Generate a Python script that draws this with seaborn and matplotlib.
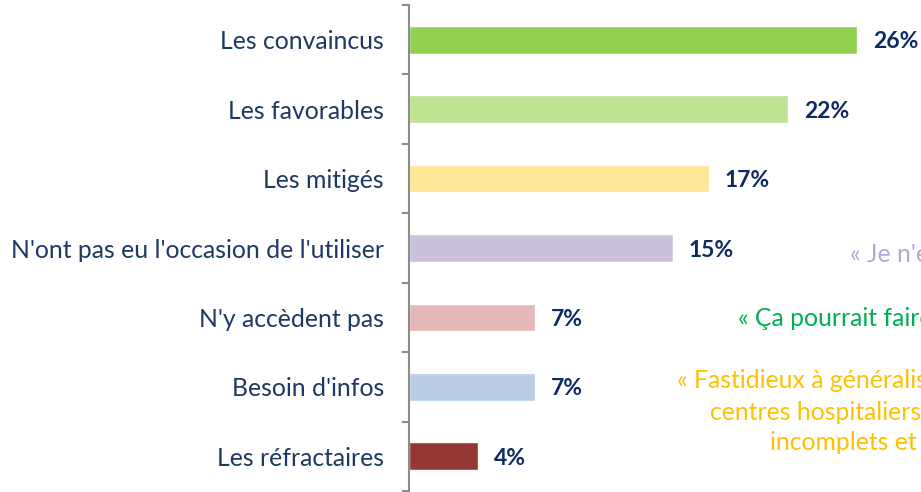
import matplotlib
matplotlib.use("Agg")
import matplotlib.pyplot as plt
import seaborn as sns
import pandas as pd
from matplotlib.ticker import FixedLocator

categories = ["Les convaincus", "Les favorables", "Les mitigés",
              "N'ont pas eu l'occasion de l'utiliser", "N'y accèdent pas",
              "Besoin d'infos", "Les réfractaires"]
values = [26.0, 22.0, 17.4, 15.3, 7.3, 7.3, 4.0]
value_labels = ["26%", "22%", "17%", "15%", "7%", "7%", "4%"]
bar_colors = ["#92D050", "#BDE393", "#FFE699", "#CCC1DA", "#E6B8B7", "#B9CDE5", "#953735"]

quotes = [
    ("« Je n'en ai pas eu l'occasion »", "#B4A7D6", 850, 255),
    ("« Ça pourrait faire gagner du temps »", "#00B050", 738, 318),
    ("« Fastidieux à généraliser dans tous les", "#FFC000", 677, 381),
    ("centres hospitaliers, dossiers", "#FFC000", 710, 412),
    ("incomplets et mal renseignés »", "#FFC000", 770, 443),
]

sns.set_theme(style="white")
plt.rcParams["font.family"] = ["Lato", "DejaVu Sans"]

W, H = 921, 492
fig = plt.figure(figsize=(W / 100, H / 100), dpi=100)
ax = fig.add_axes([409 / W, 1 - 491 / H, (912 - 409) / W, 486 / H])

df = pd.DataFrame({"cat": categories, "val": values})
sns.barplot(data=df, x="val", y="cat", hue="cat", palette=bar_colors,
            orient="h", width=0.4, legend=False, ax=ax, saturation=1)

ax.set_xlim(0, (912 - 409) / 17.23)
ax.set_ylim(len(categories) - 0.5, -0.5)

navy = "#1F3864"
for i, (v, lab) in enumerate(zip(values, value_labels)):
    ax.annotate(lab, xy=(v, i), xytext=(11.5, -1.5), textcoords="offset points",
                ha="left", va="center", fontsize=16.5, fontweight="bold",
                color="#0E2A62")

ax.set_xlabel("")
ax.set_ylabel("")
ax.xaxis.set_visible(False)
for s in ["top", "right", "bottom"]:
    ax.spines[s].set_visible(False)
ax.spines["left"].set_color("#8C8C8C")
ax.spines["left"].set_linewidth(1.5)

ax.yaxis.set_major_locator(FixedLocator(range(len(categories))))
ax.set_yticklabels(categories, fontsize=17.8, color=navy)
ax.tick_params(axis="y", which="major", length=0, pad=18)
ax.yaxis.set_minor_locator(FixedLocator([i - 0.5 for i in range(len(categories) + 1)]))
ax.tick_params(axis="y", which="minor", length=5, width=1.5, color="#8C8C8C", left=True)

for txt, col, x, y in quotes:
    fig.text(x / W, 1 - y / H, txt, color=col, fontsize=17.8, ha="left", va="center")

fig.savefig("out.png", dpi=100)
